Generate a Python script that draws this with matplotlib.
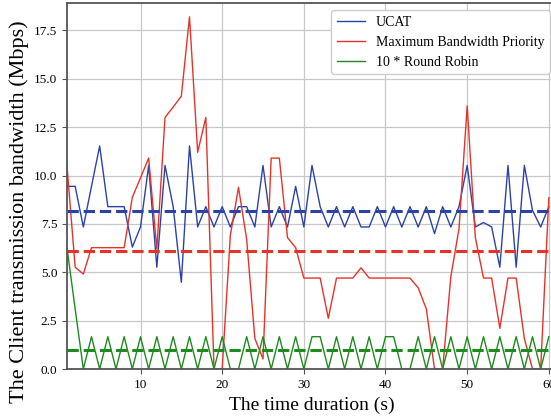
import numpy as np
import matplotlib
matplotlib.use("Agg")
import matplotlib.pyplot as plt

plt.rcParams['font.family'] = ['Liberation Serif', 'DejaVu Serif']

# time axis, one sample per second
t = np.arange(1, 61)

ucat = [9.44, 9.44, 7.34, 9.44, 11.53, 8.39, 8.39, 8.39, 6.30, 7.34,
        10.52, 5.26, 10.52, 8.39, 4.48, 11.53, 7.34, 8.39, 7.34, 8.39,
        7.34, 8.39, 8.39, 7.34, 10.52, 7.34, 8.39, 7.34, 9.44, 7.34,
        10.52, 8.39, 7.34, 8.39, 7.34, 8.39, 7.34, 7.34, 8.39, 7.34,
        8.39, 7.34, 8.39, 7.34, 8.39, 7.00, 8.39, 7.34, 8.39, 10.52,
        7.34, 7.57, 7.34, 5.26, 10.52, 5.26, 10.52, 8.20, 7.34, 8.39]

max_bw = [10.5, 5.26, 4.91, 6.27, 6.27, 6.27, 6.27, 6.27, 8.87, 9.88,
          10.9, 6.2, 13.0, 13.54, 14.1, 18.2, 11.2, 13.0, 0.0, 0.0,
          6.9, 9.39, 6.7, 1.58, 0.52, 10.9, 10.9, 6.79, 6.27, 4.7,
          4.7, 4.7, 2.62, 4.7, 4.7, 4.7, 5.23, 4.7, 4.7, 4.7,
          4.7, 4.7, 4.7, 4.2, 3.1, 0.0, 0.0, 4.77, 7.25, 13.6,
          6.8, 4.7, 4.7, 2.1, 4.7, 4.7, 1.58, 0.0, 0.0, 8.85]

rr10 = [6.27, 3.1, 0, 1.67, 0, 1.67, 0, 1.67, 0, 1.67,
        0, 1.67, 0, 1.67, 0, 1.67, 0, 1.67, 0, 1.67,
        0, 0, 1.67, 0, 1.67, 0, 1.67, 0, 1.67, 0,
        1.67, 1.67, 0, 1.67, 0, 1.67, 0, 1.67, 0, 1.67,
        1.67, 0, 0, 1.67, 0, 1.67, 0, 1.67, 0, 1.67,
        0, 1.67, 0, 1.67, 0, 1.67, 0, 1.67, 0, 1.67]

blue = '#2b42a8'
red = '#e6332a'
green = '#1f8a1f'

fig = plt.figure(figsize=(5.51, 4.16), dpi=100)
ax = fig.add_axes([67/551, 47/416, (557-67)/551, (412.7-47)/416])

ax.plot(t, ucat, color=blue, lw=1.0, label='UCAT')
ax.plot(t, max_bw, color=red, lw=1.0, label='Maximum Bandwidth Priority')
ax.plot(t, rr10, color=green, lw=1.0, label='10 * Round Robin')

# mean of each series as dashed line
ax.axhline(np.mean(ucat), color=blue, lw=2.2, ls='--')
ax.axhline(np.mean(max_bw), color=red, lw=2.2, ls='--')
ax.axhline(np.mean(rr10), color=green, lw=2.2, ls='--')

ax.set_xlim(1, 61)
ax.set_ylim(0, 18.9)
ax.set_xticks([10, 20, 30, 40, 50, 60])
ax.set_yticks(np.arange(0, 18, 2.5))
ax.grid(True, color='#c8c8c8', lw=0.9)
ax.set_axisbelow(True)
for s in ax.spines.values():
    s.set_color('#555555')
    s.set_linewidth(1.3)
ax.tick_params(labelsize=9.5, color='#555555', length=3.5)

ax.set_xlabel('The time duration (s)', fontsize=14)
ax.set_ylabel('The Client transmission bandwidth (Mbps)', fontsize=16)
ax.yaxis.set_label_coords(-0.077, 0.43)
ax.legend(loc='upper right', fontsize=10, framealpha=1, edgecolor='#cccccc')

fig.savefig('out.png', dpi=100)
